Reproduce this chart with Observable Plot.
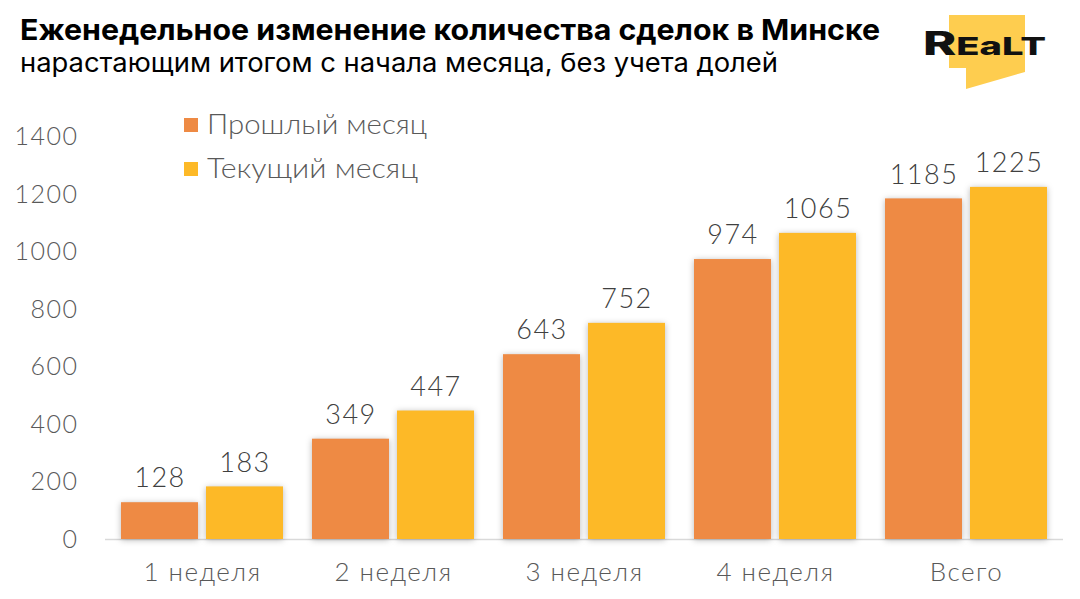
<!DOCTYPE html>
<html><head><meta charset="utf-8">
<script src="https://cdn.jsdelivr.net/npm/d3@7"></script>
<script src="https://cdn.jsdelivr.net/npm/@observablehq/plot@0.6"></script>
<style>
body{margin:0;background:#fff;}
#wrap{position:relative;width:1080px;height:599px;overflow:hidden;background:#fff;}
#wrap > svg{position:absolute;left:0;top:0;}
#plot svg g[aria-label="bar"] rect{filter:drop-shadow(0px 1px 3px rgba(0,0,0,0.28));}
#plot svg text{letter-spacing:1.5px;font-weight:300;}
</style></head><body>
<div id="wrap"><div id="plot"></div></div>
<script>
const weeks = ["1 неделя", "2 неделя", "3 неделя", "4 неделя", "Всего"];
const seriesNames = ["Прошлый месяц", "Текущий месяц"];
const prevMonth = [128, 349, 643, 974, 1185];
const currMonth = [183, 447, 752, 1065, 1225];
const seriesColors = ["#EE8A44", "#FDB927"];
const yTicks = [0, 200, 400, 600, 800, 1000, 1200, 1400];
const titleText = "Еженедельное изменение количества сделок в Минске";
const subtitleText = "нарастающим итогом с начала месяца, без учета долей";
const logoText = ["R", "EaLT"];

const prevData = weeks.map((w, i) => ({week: w, value: prevMonth[i]}));
const currData = weeks.map((w, i) => ({week: w, value: currMonth[i]}));

const chart = Plot.plot({
  width: 1080,
  height: 599,
  marginLeft: 105,
  marginRight: 17,
  marginTop: 136.6,
  marginBottom: 60,
  style: {fontFamily: "Lato, sans-serif", fontSize: "24px", color: "#595959", background: "transparent", overflow: "visible"},
  x: {domain: weeks, paddingInner: 0.154, paddingOuter: 0.078},
  y: {domain: [0, 1400]},
  marks: [
    Plot.axisY(yTicks, {tickSize: 0, tickPadding: 27, fontSize: 25, fill: "#595959", label: null, tickFormat: d => String(d)}),
    Plot.axisX({tickSize: 0, tickPadding: 23, fontSize: 26, fill: "#595959", label: null}),
    Plot.ruleY([0], {stroke: "#d9d9d9", strokeWidth: 1.5}),
    Plot.barY(prevData, {x: "week", y: "value", fill: seriesColors[0], insetRight: 85}),
    Plot.barY(currData, {x: "week", y: "value", fill: seriesColors[1], insetLeft: 85}),
    Plot.text(prevData, {x: "week", y: "value", text: d => String(d.value), dx: -42.5, dy: -24, fill: "#404040", fontSize: 27}),
    Plot.text(currData, {x: "week", y: "value", text: d => String(d.value), dx: 42.5, dy: -24, fill: "#404040", fontSize: 27})
  ]
});
document.getElementById("plot").appendChild(chart);

// Header, legend and logo overlay
const head = d3.select("#wrap").append("svg")
  .attr("width", 1080).attr("height", 200)
  .style("pointer-events", "none");

head.append("text")
  .attr("x", 20).attr("y", 40)
  .attr("font-family", "Inter, 'Noto Sans', sans-serif")
  .attr("font-weight", 700).attr("font-size", 29).attr("fill", "#000")
  .attr("textLength", 860).attr("lengthAdjust", "spacingAndGlyphs")
  .text(titleText);

head.append("text")
  .attr("x", 20).attr("y", 72)
  .attr("font-family", "Inter, 'Noto Sans', sans-serif")
  .attr("font-weight", 400).attr("font-size", 26).attr("fill", "#000")
  .attr("textLength", 758).attr("lengthAdjust", "spacingAndGlyphs")
  .text(subtitleText);

// legend
const legendRows = [125, 169];
seriesNames.forEach((name, i) => {
  head.append("rect")
    .attr("x", 184).attr("y", legendRows[i] - 7).attr("width", 14).attr("height", 14)
    .attr("fill", seriesColors[i]);
  head.append("text")
    .attr("x", 207).attr("y", legendRows[i] + 9)
    .attr("font-family", "Lato, sans-serif").attr("font-weight", 300).attr("font-size", 27).attr("fill", "#595959")
    .attr("textLength", i === 0 ? 220 : 211).attr("lengthAdjust", "spacingAndGlyphs")
    .text(name);
});

// logo
head.append("polygon")
  .attr("points", "949,15 1025,15 1025,72 966,89 966,68 949,68")
  .attr("fill", "#FECD4F");
const lt = head.append("text")
  .attr("x", 923).attr("y", 55)
  .attr("font-family", "Inter, sans-serif").attr("font-weight", 800).attr("fill", "#111")
  .attr("textLength", 123).attr("lengthAdjust", "spacingAndGlyphs");
lt.append("tspan").attr("font-size", 33).text(logoText[0]);
lt.append("tspan").attr("font-size", 25).text(logoText[1]);
</script>
</body></html>
